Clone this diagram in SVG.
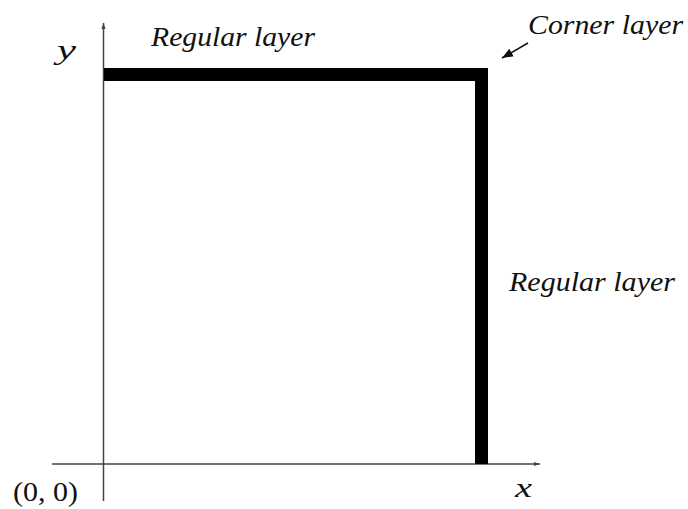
<svg xmlns="http://www.w3.org/2000/svg" width="688" height="509" viewBox="0 0 688 509">
<style>
.t{font-family:"Liberation Serif","Times New Roman",serif;font-style:italic;font-size:28px;fill:#111}
.n{font-family:"Liberation Serif","Times New Roman",serif;font-size:28px;fill:#111}
.ax{stroke:#444;stroke-width:1.5;fill:none}
</style>
<defs>
<marker id="ah" viewBox="0 0 10 10" refX="10" refY="5" markerWidth="6" markerHeight="6" orient="auto" markerUnits="userSpaceOnUse">
<path d="M0,1.5 L10,5 L0,8.5 z" fill="#444"/>
</marker>
<marker id="ah2" viewBox="0 0 10 10" refX="10" refY="5" markerWidth="11" markerHeight="11" orient="auto" markerUnits="userSpaceOnUse">
<path d="M0,1 L10,5 L0,9 z" fill="#111"/>
</marker>
</defs>
<rect width="688" height="509" fill="#fff"/>
<g id="axes">
<line class="ax" x1="103.5" y1="501" x2="103.5" y2="23" marker-end="url(#ah)"/>
<line class="ax" x1="52" y1="464" x2="540" y2="464" marker-end="url(#ah)"/>
</g>
<g id="layers">
<path d="M104,68 H488 V464 H475 V81 H104 Z" fill="#000"/>
</g>
<g id="connectors">
<line x1="528" y1="43" x2="502" y2="58" stroke="#111" stroke-width="1.5" marker-end="url(#ah2)"/>
</g>
<g id="labels">
<text class="t" x="57" y="59" textLength="19" lengthAdjust="spacingAndGlyphs">y</text>
<text class="t" x="151" y="46" textLength="164" lengthAdjust="spacingAndGlyphs">Regular layer</text>
<text class="t" x="528" y="34" textLength="155" lengthAdjust="spacingAndGlyphs">Corner layer</text>
<text class="t" x="509" y="291" textLength="166" lengthAdjust="spacingAndGlyphs">Regular layer</text>
<text class="n" x="13" y="501" textLength="65" lengthAdjust="spacingAndGlyphs">(0, 0)</text>
<text class="t" x="515" y="497" textLength="17" lengthAdjust="spacingAndGlyphs">x</text>
</g>
</svg>
